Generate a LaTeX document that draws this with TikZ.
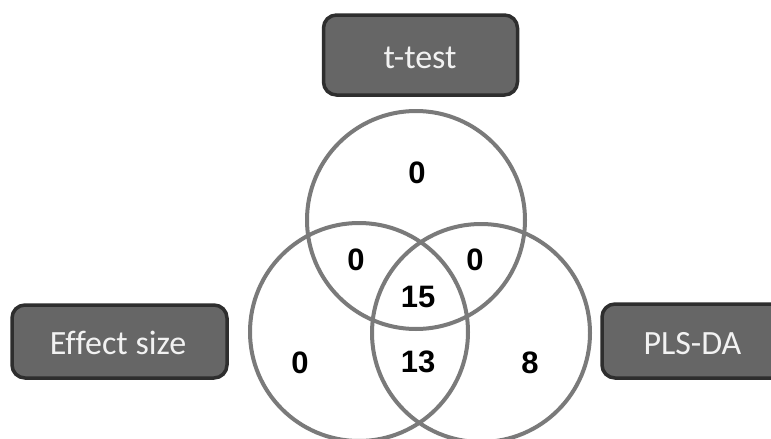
\documentclass[tikz,border=0pt]{standalone}
\usepackage{fontspec}
\setmainfont{Carlito}
\newfontfamily\numfont{Liberation Sans}
\definecolor{boxfill}{HTML}{666666}
\definecolor{boxedge}{HTML}{2E2E2E}
\definecolor{ringcol}{HTML}{7A7A7A}
\definecolor{labtext}{HTML}{F2F2F2}
\begin{document}
\begin{tikzpicture}[x=1pt,y=-1pt,
  setbox/.style={draw=boxedge, line width=3.5pt, fill=boxfill, rounded corners=13pt, inner sep=0pt},
  setlabel/.style={text=labtext, font=\fontsize{34}{34}\selectfont, inner sep=0pt, anchor=base},
  ring/.style={draw=ringcol, line width=4pt, circle, minimum size=218pt, inner sep=0pt},
  count/.style={font=\numfont\bfseries\fontsize{31}{31}\selectfont, text=black, inner sep=0pt}]
\useasboundingbox (0,0) rectangle (771,439);
\fill[white] (0,0) rectangle (771,439);
% set boxes
\node[setbox, minimum width=194pt, minimum height=80pt] (tt) at (420.5,55) {};
\node[setlabel] (ttl) at (420,68) {t-test};
\node[setbox, minimum width=215pt, minimum height=73pt] (es) at (119.5,341.5) {};
\node[setlabel] (esl) at (118,354) {Ef\kern0ptfect size};
\node[setbox, minimum width=200pt, minimum height=74pt] (pl) at (702,341) {};
\node[setlabel] (pll) at (692.5,354) {PLS-DA};
% circles
\node[ring] (ct) at (416,220) {};
\node[ring] (cl) at (359,332) {};
\node[ring] (cr) at (481,333) {};
% counts
\node[count] (n1) at (417,173) {0};
\node[count] (n2) at (356,260) {0};
\node[count] (n3) at (475,260) {0};
\node[count] (n4) at (418,297) {15};
\node[count] (n5) at (300,363) {0};
\node[count] (n6) at (418,362) {13};
\node[count] (n7) at (530,363) {8};
\end{tikzpicture}
\end{document}
